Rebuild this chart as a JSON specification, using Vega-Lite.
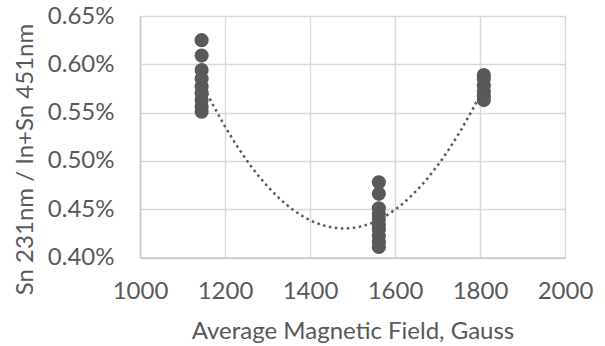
{
  "$schema": "https://vega.github.io/schema/vega-lite/v6.json",
  "width": 425,
  "height": 241.6,
  "autosize": {"type": "none"},
  "padding": {"left": 140, "top": 16, "right": 40, "bottom": 88.4},
  "background": "white",
  "config": {
    "view": {"stroke": null},
    "font": "Lato",
    "axis": {
      "labelFont": "Lato",
      "titleFont": "Lato",
      "labelColor": "#595959",
      "titleColor": "#595959",
      "labelFontSize": 24,
      "titleFontSize": 24,
      "titleFontWeight": "normal",
      "gridColor": "#d9d9d9",
      "gridWidth": 1.5,
      "domainColor": "#c8c8c8",
      "domainWidth": 1.5,
      "ticks": false,
      "labelFlush": false
    }
  },
  "data": {
    "values": [
      {"field": 1145, "ratio": 0.00625},
      {"field": 1145, "ratio": 0.00609},
      {"field": 1145, "ratio": 0.00594},
      {"field": 1145, "ratio": 0.00585},
      {"field": 1145, "ratio": 0.00577},
      {"field": 1145, "ratio": 0.00570},
      {"field": 1145, "ratio": 0.00563},
      {"field": 1145, "ratio": 0.00556},
      {"field": 1145, "ratio": 0.00551},
      {"field": 1562, "ratio": 0.00478},
      {"field": 1562, "ratio": 0.00466},
      {"field": 1562, "ratio": 0.00451},
      {"field": 1562, "ratio": 0.00445},
      {"field": 1562, "ratio": 0.00440},
      {"field": 1562, "ratio": 0.00434},
      {"field": 1562, "ratio": 0.00429},
      {"field": 1562, "ratio": 0.00422},
      {"field": 1562, "ratio": 0.00416},
      {"field": 1562, "ratio": 0.00411},
      {"field": 1809, "ratio": 0.00589},
      {"field": 1809, "ratio": 0.00585},
      {"field": 1809, "ratio": 0.00578},
      {"field": 1809, "ratio": 0.00572},
      {"field": 1809, "ratio": 0.00567},
      {"field": 1809, "ratio": 0.00563}
    ]
  },
  "encoding": {
    "x": {
      "field": "field",
      "type": "quantitative",
      "scale": {"domain": [1000, 2000], "nice": false, "zero": false},
      "axis": {
        "values": [1000, 1200, 1400, 1600, 1800, 2000],
        "format": "d",
        "title": "Average Magnetic Field, Gauss",
        "labelPadding": 22,
        "titlePadding": 16
      }
    },
    "y": {
      "field": "ratio",
      "type": "quantitative",
      "scale": {"domain": [0.004, 0.0065], "nice": false, "zero": false},
      "axis": {
        "values": [0.004, 0.0045, 0.005, 0.0055, 0.006, 0.0065],
        "format": ".2%",
        "title": "Sn 231nm / In+Sn 451nm",
        "labelPadding": 26,
        "titleAngle": -90,
        "titleAlign": "center",
        "titleBaseline": "middle",
        "titleX": -115,
        "titleY": 143
      }
    }
  },
  "layer": [
    {
      "mark": {"type": "point", "filled": true, "opacity": 1, "color": "#595959", "size": 200}
    },
    {
      "transform": [
        {"regression": "ratio", "on": "field", "method": "poly", "order": 2, "extent": [1145, 1809]}
      ],
      "mark": {"type": "line", "color": "#595959", "strokeWidth": 2.5, "strokeDash": [2.5, 3.5]}
    }
  ]
}
